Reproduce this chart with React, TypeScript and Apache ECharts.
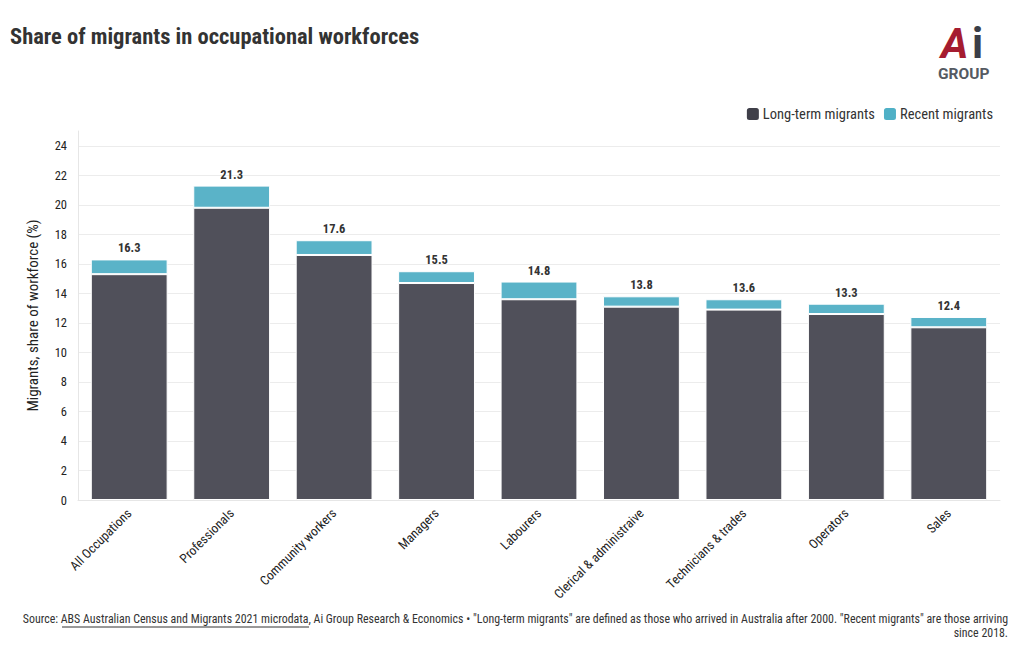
import React, { useEffect, useRef } from "react";
import * as echarts from "echarts";

const categories = [
  "All Occupations",
  "Professionals",
  "Community workers",
  "Managers",
  "Labourers",
  "Clerical & administraive",
  "Technicians & trades",
  "Operators",
  "Sales",
];
const longTerm = [15.3, 19.8, 16.6, 14.7, 13.6, 13.1, 12.9, 12.6, 11.7];
const recent = [1.0, 1.5, 1.0, 0.8, 1.2, 0.7, 0.7, 0.7, 0.7];
const totals = [16.3, 21.3, 17.6, 15.5, 14.8, 13.8, 13.6, 13.3, 12.4];

const FONT = "'Roboto Condensed', 'Liberation Sans Narrow', Roboto, sans-serif";
const DARK = "#50505a";
const BLUE = "#5ab3c8";

export default function App() {
  const ref = useRef<HTMLDivElement>(null);
  useEffect(() => {
    document.body.style.margin = "0";
    const chart = echarts.init(ref.current!, null, { renderer: "svg" });
    chart.setOption({
      animation: false,
      backgroundColor: "#ffffff",
      textStyle: { fontFamily: FONT },
      legend: {
        right: 22,
        top: 101,
        itemWidth: 14,
        itemHeight: 14,
        itemGap: 7,
        icon: "roundRect",
        textStyle: { fontFamily: FONT, fontSize: 14.5, color: "#333", padding: [0, 0, 0, -2] },
        data: [
          { name: "Long-term migrants", itemStyle: { color: "#3f3f49" } },
          { name: "Recent migrants", itemStyle: { color: "#4fb0c6" } },
        ],
      },
      grid: { left: 78, right: 20, top: 131, bottom: 150 },
      xAxis: {
        type: "category",
        data: categories,
        axisLine: { lineStyle: { color: "#e6e6e6" } },
        axisTick: { alignWithLabel: true, length: 6, lineStyle: { color: "#e6e6e6" } },
        axisLabel: { rotate: 45, fontSize: 13, color: "#222", fontFamily: FONT, margin: 11 },
      },
      yAxis: {
        type: "value",
        min: 0,
        max: 25,
        interval: 2,
        name: "Migrants, share of workforce (%)",
        nameLocation: "middle",
        nameGap: 38,
        nameTextStyle: { fontSize: 15, color: "#222", fontFamily: FONT },
        axisLine: { show: true, lineStyle: { color: "#e6e6e6" } },
        axisTick: { show: false },
        axisLabel: { fontSize: 12.5, color: "#222", fontFamily: FONT, showMaxLabel: false, margin: 11 },
        splitLine: { showMaxLine: false, lineStyle: { color: "#ececec" } },
      },
      series: [
        {
          name: "Long-term migrants",
          type: "bar",
          stack: "m",
          barWidth: "75%",
          data: longTerm,
          itemStyle: { color: DARK, borderColor: "#ffffff", borderWidth: 1 },
        },
        {
          name: "Recent migrants",
          type: "bar",
          stack: "m",
          data: recent,
          itemStyle: { color: BLUE, borderColor: "#ffffff", borderWidth: 1 },
          label: {
            show: true,
            position: "top",
            distance: 5,
            fontSize: 12.5,
            fontWeight: "bold",
            color: "#333",
            fontFamily: FONT,
            formatter: (p: any) => totals[p.dataIndex].toFixed(1),
          },
        },
      ],
      graphic: [
        {
          type: "text",
          left: 10,
          top: 24,
          style: {
            text: "Share of migrants in occupational workforces",
            fontSize: 22.5,
            fontWeight: "bold",
            fill: "#333",
            fontFamily: FONT,
          },
        },
        {
          type: "text",
          left: 941,
          top: 22,
          style: {
            text: "A",
            fontSize: 42,
            lineHeight: 36,
            fontWeight: "bold",
            fontStyle: "italic",
            fill: "#a51c30",
            fontFamily: "Roboto, sans-serif",
          },
        },
        {
          type: "text",
          left: 972,
          top: 22,
          style: {
            text: "i",
            fontSize: 42,
            lineHeight: 36,
            fontWeight: "bold",
            fill: "#3a3e48",
            fontFamily: "Roboto, sans-serif",
          },
        },
        {
          type: "text",
          left: 938,
          top: 66,
          style: {
            text: "GROUP",
            fontSize: 15.5,
            fontWeight: "bold",
            fill: "#555a62",
            fontFamily: "Roboto, sans-serif",
          },
        },
        {
          type: "text",
          right: 12,
          top: 613,
          style: {
            text:
              'Source: ABS Australian Census and Migrants 2021 microdata, Ai Group Research & Economics • "Long-term migrants" are defined as those who arrived in Australia after 2000. "Recent migrants" are those arriving',
            fontSize: 11.9,
            align: "right",
            fill: "#333",
            fontFamily: FONT,
          },
        },
        {
          type: "text",
          right: 12,
          top: 627,
          style: {
            text: "since 2018.",
            fontSize: 11.9,
            align: "right",
            fill: "#333",
            fontFamily: FONT,
          },
        },
        {
          type: "line",
          shape: { x1: 62, y1: 627, x2: 309, y2: 627 },
          style: { stroke: "#333", lineWidth: 1 },
        },
      ],
    });
    return () => chart.dispose();
  }, []);
  return <div ref={ref} style={{ width: 1020, height: 650 }} />;
}
